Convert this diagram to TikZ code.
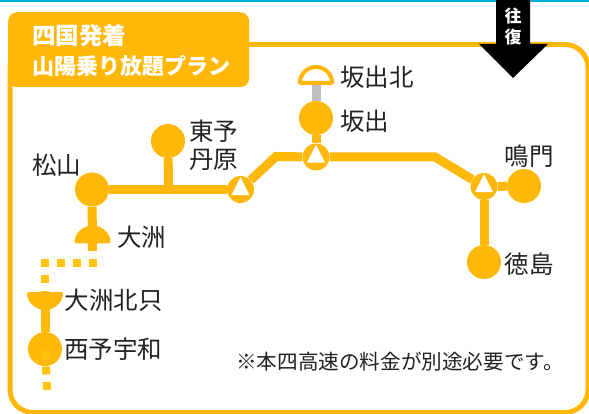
\documentclass[tikz,border=0pt]{standalone}
\usepackage{fontspec}
\setmainfont{Noto Sans CJK JP}
\usetikzlibrary{shapes.geometric}
\definecolor{railyellow}{HTML}{FFB80A}
\definecolor{dotyellow}{HTML}{FFC30A}
\definecolor{topblue}{HTML}{00AEDB}
\definecolor{railgray}{HTML}{BFBFBF}
\definecolor{labelblack}{HTML}{222222}
\tikzset{
    stationdot/.style={circle,fill=railyellow,minimum size=34,inner sep=0},
    junction/.style={circle,fill=railyellow,minimum size=27,inner sep=0},
    junctiontri/.style={isosceles triangle,isosceles triangle stretches,shape border rotate=90,
        fill=white,minimum width=18,minimum height=18,inner sep=0},
    rail/.style={railyellow,line width=9},
    dotrail/.style={dotyellow,line width=8,dash pattern=on 8 off 8},
    stationname/.style={anchor=west,inner sep=0,text=labelblack,font=\fontsize{24.5}{27.5}\selectfont,align=left},
    tabtext/.style={anchor=west,inner sep=0,text=white,font=\bfseries},
}
\begin{document}
\begin{tikzpicture}[x=1pt,y=-1pt]
        \useasboundingbox (0,0) rectangle (589,414);

        \fill[topblue] (0,0) rectangle (589,2);
        \draw[railyellow,line width=5,rounded corners=23] (10,44.5) rectangle (588,412.5);

        \node[anchor=north west,fill=railyellow,rounded corners=9,minimum width=241,minimum height=75,inner sep=0] (tab) at (8,12) {};
        \node[tabtext,font=\bfseries\fontsize{23.5}{26}\selectfont] (tabtop) at (32,36) {四国発着};
        \node[tabtext,font=\bfseries\fontsize{22}{26}\selectfont] (tabbottom) at (32,66.5) {山陽乗り放題プラン};

        % arrow
        \fill (496,0)--(530,0)--(530,44)--(548,44)--(513,78)--(479,44)--(496,44)--cycle;
        \node[text=white,inner sep=0,font=\bfseries\fontsize{17}{20}\selectfont] (ou) at (513,16.5) {往};
        \node[text=white,inner sep=0,font=\bfseries\fontsize{17}{20}\selectfont] (fuku) at (513,37.5) {復};

        % stations
        \node[stationdot] (matsuyama) at (92,189.5) {};
        \node[stationdot] (tanbara) at (168,141) {};
        \node[stationdot] (sakaide) at (316,118) {};
        \node[stationdot] (naruto) at (524,186) {};
        \node[stationdot] (tokushima) at (484,262) {};
        \node[stationdot] (seiyo) at (45,349) {};

        \node[junction] (jiyo) at (240.5,189.5) {};
        \node[junction] (jseto) at (316,157) {};
        \node[junction] (jtoku) at (484,186.5) {};
        \foreach \j in {jiyo,jseto,jtoku}
        {
            \node[junctiontri] (\j tri) at (\j) {};
        }

        \coordinate (ozu) at (92.5,243.5);
        \coordinate (ozustub) at (92.5,251);
        \coordinate (ozukita) at (45,292);
        \coordinate (kita) at (316,83);

        % lines
        \draw[rail] (matsuyama)--(jiyo);
        \draw[rail] (jiyo)--(276,156.5)--(jseto);
        \draw[rail] (jseto)--(435,157)--(jtoku);
        \draw[rail] (jtoku)--(naruto);
        \draw[rail] (jtoku)--(tokushima);
        \draw[rail] (tanbara)--(168.5,189);
        \draw[rail] (sakaide)--(jseto);
        \draw[rail] (matsuyama)--(ozustub);
        \draw[rail] (ozukita)--(seiyo);
        \draw[railgray,line width=9] (kita)--(sakaide);

        \draw[dotrail] (96.5,263)--(44.5,263)--(44.5,292);
        \draw[dotrail,dash pattern=on 8 off 7.5] (45.5,351)--(47,390);

        % half stations
        \fill[railyellow,rounded corners=1.5] (74.5,243.5) arc (180:360:18)--cycle;
        \fill[railyellow,rounded corners=1.5] (27,292) arc (180:0:18)--cycle;
        \draw[railyellow,fill=white,line width=4,rounded corners=1] (300,83) arc (180:360:16)--cycle;

        % names
        \node[stationname] (nmatsuyama) at (32,165) {松山};
        \node[stationname] (ntanbara) at (189,145) {東予\\丹原};
        \node[stationname] (nkita) at (340,77) {坂出北};
        \node[stationname] (nsakaide) at (340,121.5) {坂出};
        \node[stationname] (nnaruto) at (504.5,156) {鳴門};
        \node[stationname] (ntokushima) at (504.5,264) {徳島};
        \node[stationname] (nozu) at (117,237) {大洲};
        \node[stationname] (nozukita) at (64.5,300) {大洲北只};
        \node[stationname] (nseiyo) at (64,349.5) {西予宇和};
        \node[anchor=west,inner sep=0,text=labelblack,font=\fontsize{20.6}{24}\selectfont] (note) at (236,361.5) {※本四高速の料金が別途必要です。};
\end{tikzpicture}
\end{document}
